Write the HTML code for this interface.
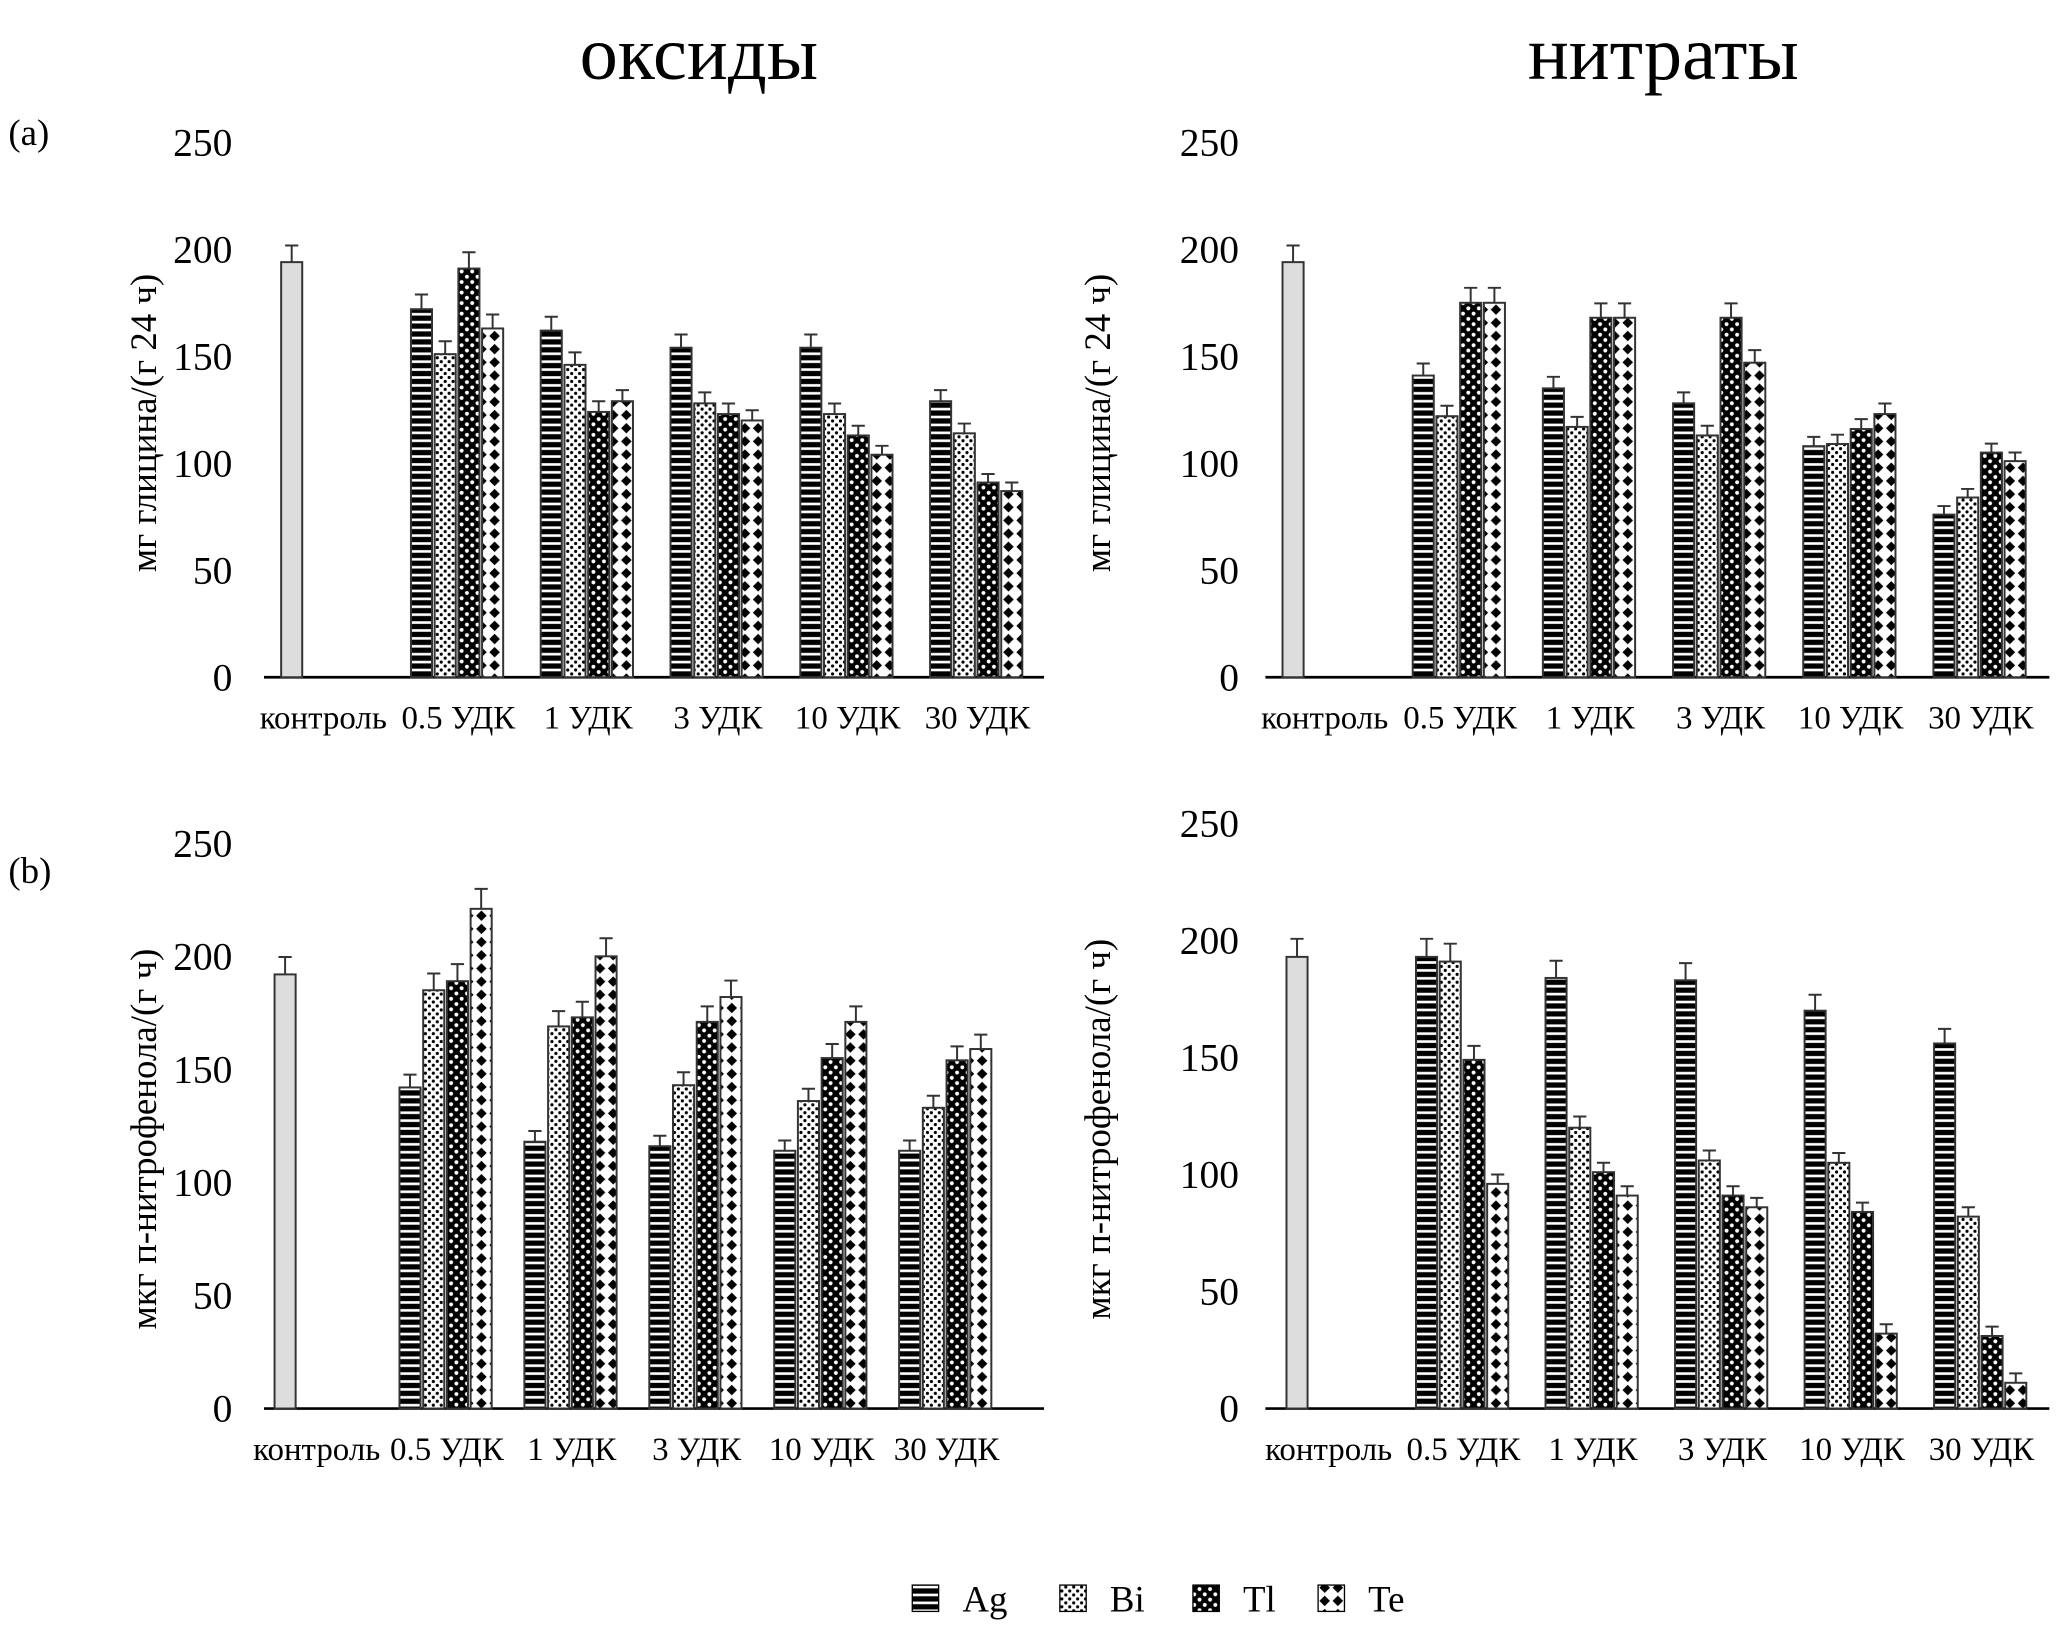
<!DOCTYPE html>
<html><head><meta charset="utf-8"><style>
html,body{margin:0;padding:0;background:#fff;}
svg{display:block;font-family:"Liberation Serif",serif;}
</style></head><body>
<svg id="fig" width="2067" height="1647" viewBox="0 0 1568 1250" xmlns="http://www.w3.org/2000/svg">
<defs>
<pattern id="pAg" width="6" height="6" patternUnits="userSpaceOnUse"><rect width="6" height="6" fill="#000"/><rect y="3.5" width="6" height="2" fill="#fff"/></pattern>
<pattern id="pBi" width="6" height="6" patternUnits="userSpaceOnUse"><rect width="6" height="6" fill="#fff"/><circle cx="1.5" cy="1.5" r="1.2" fill="#000"/><circle cx="4.5" cy="4.5" r="1.2" fill="#000"/></pattern>
<pattern id="pTl" width="8" height="8" patternUnits="userSpaceOnUse"><rect width="8" height="8" fill="#000"/><circle cx="2" cy="2" r="1.5" fill="#fff"/><circle cx="6" cy="6" r="1.5" fill="#fff"/></pattern>
<pattern id="pTe" width="10" height="10" patternUnits="userSpaceOnUse"><rect width="10" height="10" fill="#fff"/><path d="M5 1 L9 5 L5 9 L1 5Z" fill="#000"/></pattern>
</defs>
<text x="530" y="60" font-size="58" text-anchor="middle">оксиды</text>
<text x="1262" y="60" font-size="58" text-anchor="middle">нитраты</text>
<text x="6" y="110" font-size="28">(a)</text>
<text x="6" y="670" font-size="28">(b)</text>
<g id="charts"></g>
<g font-size="28">
<rect x="692" y="1203" width="20" height="20" fill="url(#pAg)" stroke="#000"/><text x="730" y="1223">Ag</text>
<rect x="804" y="1203" width="20" height="20" fill="url(#pBi)" stroke="#000"/><text x="842" y="1223">Bi</text>
<rect x="905" y="1203" width="20" height="20" fill="url(#pTl)" stroke="#000"/><text x="943" y="1223">Tl</text>
<rect x="1000" y="1203" width="20" height="20" fill="url(#pTe)" stroke="#000"/><text x="1038" y="1223">Te</text>
</g>
</svg>
<script>
const categories = ["контроль","0.5 УДК","1 УДК","3 УДК","10 УДК","30 УДК"];
const yTicks = [0,50,100,150,200,250];
const seriesNames = ["Ag","Bi","Tl","Te"];
// panel a - oxides
const aOxControl = 194;
const aOxAg = [172,162,154,154,129];
const aOxBi = [151,146,128,123,114];
const aOxTl = [191,124,123,113,91];
const aOxTe = [163,129,120,104,87];
// panel a - nitrates
const aNiControl = 194;
const aNiAg = [141,135,128,108,76];
const aNiBi = [122,117,113,109,84];
const aNiTl = [175,168,168,116,105];
const aNiTe = [175,168,147,123,101];
// panel b - oxides
const bOxControl = 192;
const bOxAg = [142,118,116,114,114];
const bOxBi = [185,169,143,136,133];
const bOxTl = [189,173,171,155,154];
const bOxTe = [221,200,182,171,159];
// panel b - nitrates
const bNiControl = 193;
const bNiAg = [193,184,183,170,156];
const bNiBi = [191,120,106,105,82];
const bNiTl = [149,101,91,84,31];
const bNiTe = [96,91,86,32,11];

const NS="http://www.w3.org/2000/svg";
const root=document.getElementById('charts');
function mk(tag,attrs,parent){const e=document.createElementNS(NS,tag);for(const k in attrs)e.setAttribute(k,attrs[k]);(parent||root).appendChild(e);return e;}

function chart(id,cfg,control,series,ytitle){
  const g=mk('g',{});
  
  
  const y=v=>cfg.y0-(v/250)*(cfg.y0-cfg.y250);
  yTicks.forEach(t=>{const tx=mk('text',{x:cfg.tickX,y:y(t)+10,'font-size':30,'text-anchor':'end'},g);tx.textContent=t;
    
    });
  const yt=mk('text',{transform:`translate(${cfg.titleX},${(cfg.y0+cfg.y250)/2+10}) rotate(-90)`,'font-size':28,'text-anchor':'middle'},g);
  yt.textContent=ytitle;
  
  
  const ax=mk('line',{x1:cfg.ax0,x2:cfg.ax1,y1:cfg.y0,y2:cfg.y0,stroke:'#000','stroke-width':2},g);
  
  
  const catX=i=>cfg.first+i*cfg.slot;
  categories.forEach((c,i)=>{const t=mk('text',{x:catX(i)+36+(i==0?-4:0),y:cfg.y0+39,'font-size':25,'text-anchor':'middle'},g);t.textContent=c;
    
    });
  function bar(x,v,fill,name){
    const top=y(v),err=Math.max(4,v*0.04);
    const r=mk('rect',{x:x,y:top,width:16,height:cfg.y0-top,fill:fill,stroke:'#333','stroke-width':1.5},g);
    
    
    const e=mk('path',{d:`M${x+8} ${top} V${y(v+err)} M${x+3} ${y(v+err)} H${x+13}`,stroke:'#333','stroke-width':1.5,fill:'none'},g);
    
    
  }
  bar(catX(0),control,'#ddd','bar-control');
  const fills=['url(#pAg)','url(#pBi)','url(#pTl)','url(#pTe)'];
  series.forEach((arr,s)=>arr.forEach((v,i)=>bar(catX(i+1)+s*18,v,fills[s],'bar-'+seriesNames[s].toLowerCase())));
}
const TL={y0:514,y250:108,tickX:176,titleX:118,ax0:200,ax1:792,first:213,slot:98.5};
const TR={y0:514,y250:108,tickX:940,titleX:842,ax0:960,ax1:1555,first:973,slot:98.8};
const BL={y0:1069,y250:640,tickX:176,titleX:118,ax0:200,ax1:792,first:208,slot:94.8};
const BR={y0:1069,y250:625,tickX:940,titleX:842,ax0:960,ax1:1555,first:976,slot:98.3};
chart('chart-a-oxides',TL,aOxControl,[aOxAg,aOxBi,aOxTl,aOxTe],'мг глицина/(г 24 ч)');
chart('chart-a-nitrates',TR,aNiControl,[aNiAg,aNiBi,aNiTl,aNiTe],'мг глицина/(г 24 ч)');
chart('chart-b-oxides',BL,bOxControl,[bOxAg,bOxBi,bOxTl,bOxTe],'мкг п-нитрофенола/(г ч)');
chart('chart-b-nitrates',BR,bNiControl,[bNiAg,bNiBi,bNiTl,bNiTe],'мкг п-нитрофенола/(г ч)');
</script>
</body></html>
